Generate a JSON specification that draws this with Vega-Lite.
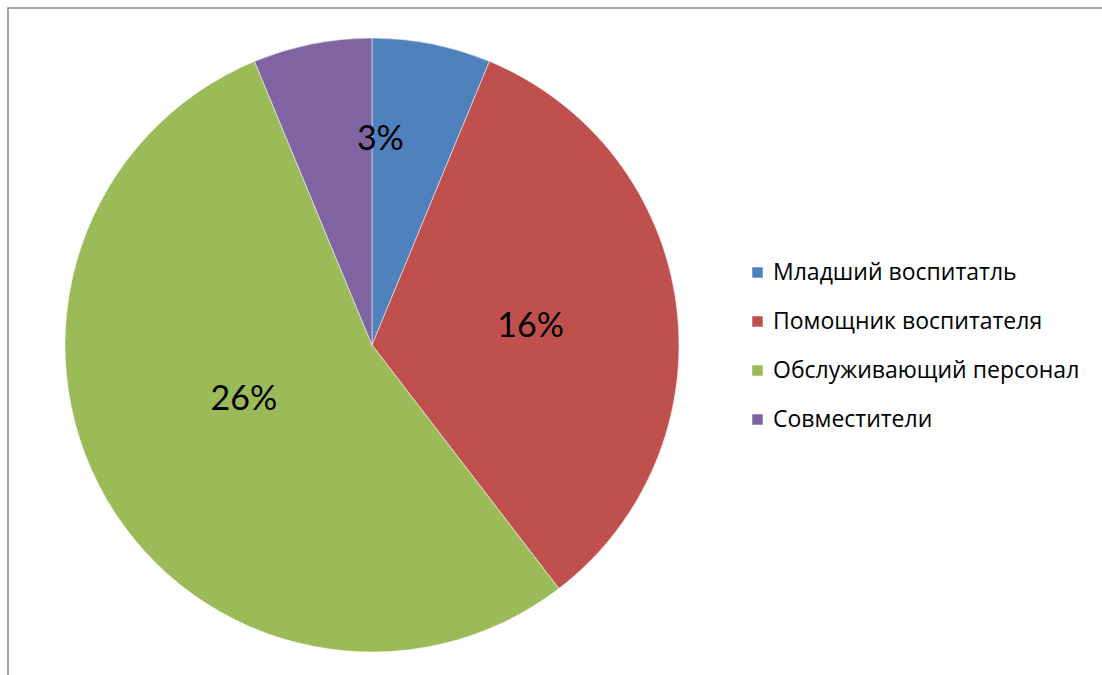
{
  "$schema": "https://vega.github.io/schema/vega-lite/v6.json",
  "width": 1102,
  "height": 675,
  "autosize": {"type": "fit", "contains": "padding"},
  "padding": {"left": 8, "top": 8, "right": -10, "bottom": -10},
  "background": "white",
  "view": {"stroke": "#8a8a8a", "strokeWidth": 1.5},
  "data": {
    "values": [
      {"category": "Младший воспитатль", "value": 3, "label": "3%", "order": 1},
      {"category": "Помощник воспитателя", "value": 16, "label": "16%", "order": 2},
      {"category": "Обслуживающий персонал", "value": 26, "label": "26%", "order": 3},
      {"category": "Совместители", "value": 3, "label": "3%", "order": 4}
    ]
  },
  "encoding": {
    "theta": {"field": "value", "type": "quantitative", "stack": true},
    "order": {"field": "order", "type": "quantitative"},
    "color": {
      "field": "category",
      "type": "nominal",
      "sort": ["Младший воспитатль", "Помощник воспитателя", "Обслуживающий персонал", "Совместители"],
      "scale": {
        "domain": ["Младший воспитатль", "Помощник воспитателя", "Обслуживающий персонал", "Совместители"],
        "range": ["#4F81BD", "#C0504D", "#9BBB59", "#8064A2"]
      },
      "legend": {
        "orient": "none",
        "legendX": 738,
        "legendY": 253,
        "title": null,
        "symbolType": "square",
        "symbolSize": 110,
        "symbolStrokeWidth": 0,
        "labelFont": "Open Sans",
        "labelFontSize": 23,
        "labelColor": "#000000",
        "labelOffset": 4,
        "rowPadding": 25,
        "labelLimit": 400,
        "padding": 0
      }
    }
  },
  "layer": [
    {
      "mark": {"type": "arc", "x": 364, "y": 337, "outerRadius": 307, "stroke": "white", "strokeWidth": 0.5}
    },
    {
      "mark": {"type": "text", "x": 364, "y": 337, "radius": 160, "dy": 3, "font": "Lato", "fontSize": 34, "color": "black"},
      "encoding": {
        "text": {"field": "label"},
        "color": {"value": "black"},
        "opacity": {"condition": {"test": "datum.order == 2", "value": 1}, "value": 0}
      }
    },
    {
      "mark": {"type": "text", "x": 364, "y": 337, "radius": 148, "dy": -19, "font": "Lato", "fontSize": 34, "color": "black"},
      "encoding": {
        "text": {"field": "label"},
        "color": {"value": "black"},
        "opacity": {"condition": {"test": "datum.order == 3", "value": 1}, "value": 0}
      }
    },
    {
      "mark": {"type": "text", "x": 364, "y": 337, "radius": 207, "dx": -32, "dy": -2, "font": "Lato", "fontSize": 34, "color": "black"},
      "encoding": {
        "text": {"field": "label"},
        "color": {"value": "black"},
        "opacity": {"condition": {"test": "datum.order == 1", "value": 1}, "value": 0}
      }
    }
  ]
}
